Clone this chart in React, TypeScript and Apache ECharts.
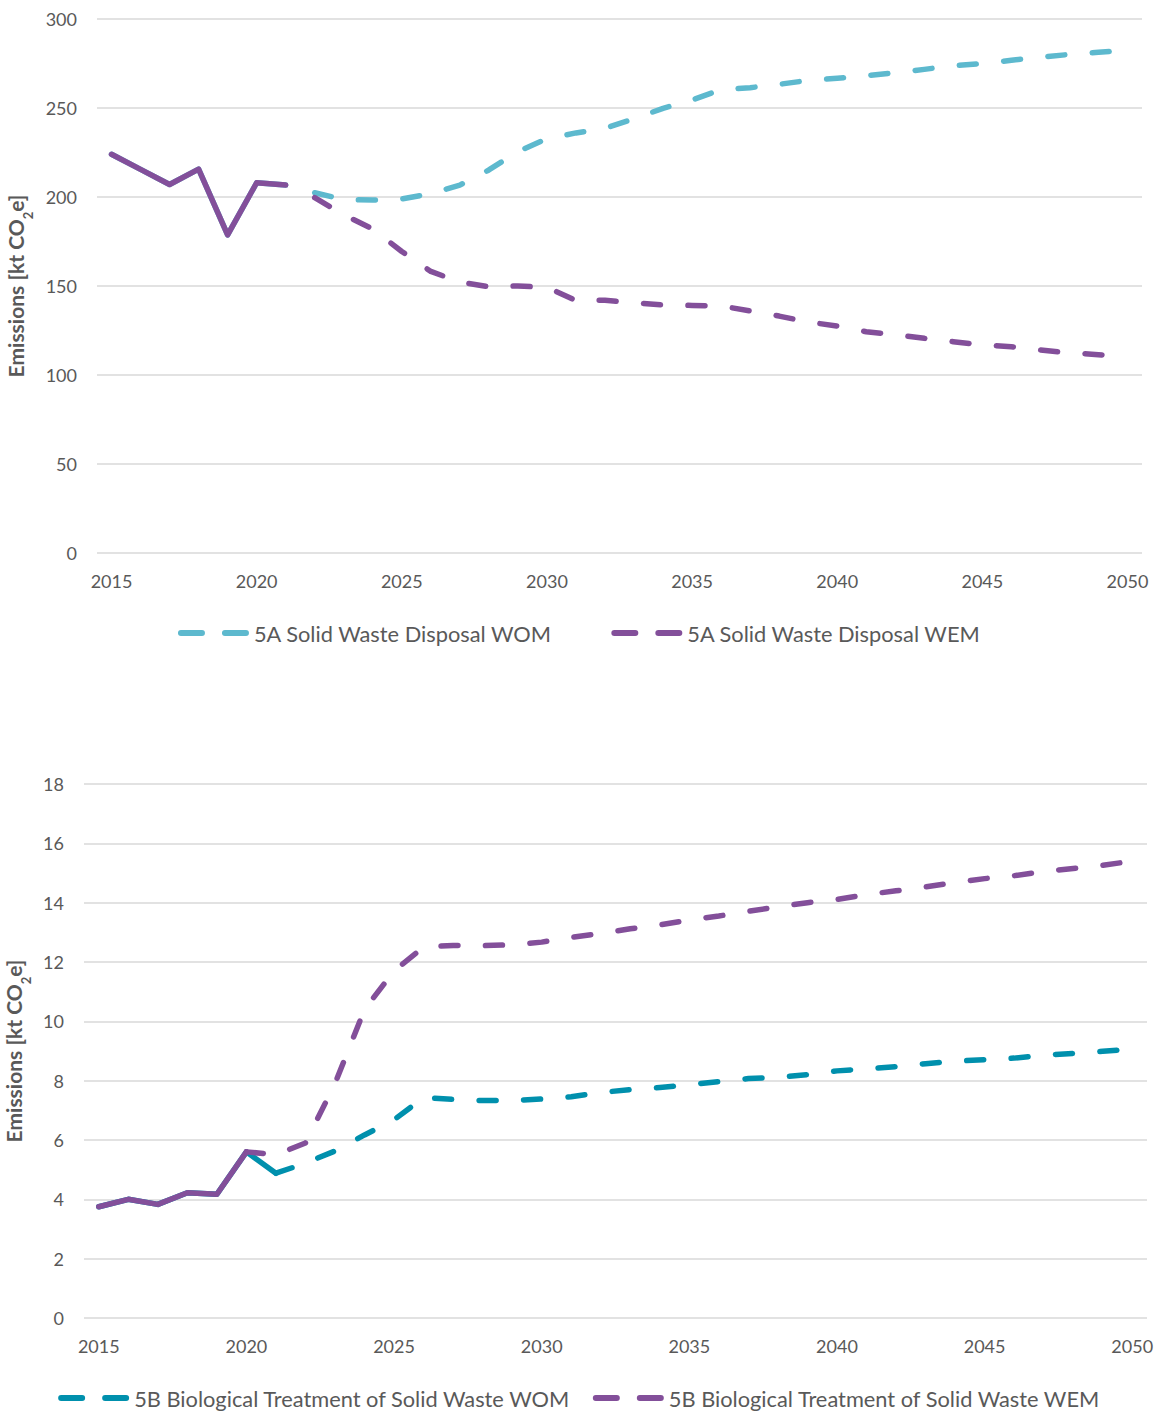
import React, { useEffect, useRef } from "react";
import * as echarts from "echarts";

// ---------- categories ----------
const years = [
  "2015", "2016", "2017", "2018", "2019", "2020", "2021", "2022", "2023", "2024",
  "2025", "2026", "2027", "2028", "2029", "2030", "2031", "2032", "2033", "2034",
  "2035", "2036", "2037", "2038", "2039", "2040", "2041", "2042", "2043", "2044",
  "2045", "2046", "2047", "2048", "2049", "2050",
];

// ---------- 5A Solid Waste Disposal ----------
// historic (shared by both scenarios), 2015-2021
const hist5A = [224, 215.5, 207, 215.7, 178.7, 208, 206.7];
// projections 2022-2050
const wom5A = [
  202.4, 198.5, 198.3, 198.9, 201.9, 206.7, 215.2, 225.5, 232.8, 236,
  238.6, 244, 249.8, 254.5, 260.3, 261.4, 263.3, 265.5, 266.7, 268.2,
  269.8, 271.7, 273.8, 274.9, 276.8, 278.5, 280.1, 281.3, 282.4,
];
const wem5A = [
  199.6, 190, 182, 169.4, 158.2, 152.2, 149.6, 150, 149.3, 141.8,
  142, 140.6, 139.3, 139.1, 138.8, 136, 133.1, 129.8, 127.5, 124.3,
  122.6, 120.6, 118.7, 116.9, 115.9, 114, 112.5, 111.4, 109.7,
];

// ---------- 5B Biological Treatment of Solid Waste ----------
// historic WOM 2015-2021, historic WEM 2015-2020
const hist5B_WOM = [3.75, 4.0, 3.83, 4.22, 4.17, 5.6, 4.88];
const hist5B_WEM = [3.75, 4.0, 3.83, 4.22, 4.17, 5.6];
// projection WOM 2021-2050
const wom5B = [
  4.88, 5.22, 5.63, 6.17, 6.68, 7.43, 7.37, 7.33, 7.33, 7.38,
  7.46, 7.6, 7.7, 7.77, 7.86, 7.97, 8.07, 8.12, 8.2, 8.33,
  8.4, 8.47, 8.57, 8.66, 8.71, 8.76, 8.86, 8.92, 8.99, 9.06,
];
// projection WEM 2020-2050
const wem5B = [
  5.6, 5.5, 5.9, 7.9, 10.4, 11.7, 12.5, 12.56, 12.55, 12.58,
  12.67, 12.83, 12.96, 13.12, 13.25, 13.42, 13.55, 13.71, 13.86, 14.0,
  14.11, 14.27, 14.4, 14.53, 14.68, 14.81, 14.91, 15.05, 15.15, 15.26,
  15.4,
];

const LEG_5A_WOM = "5A Solid Waste Disposal WOM";
const LEG_5A_WEM = "5A Solid Waste Disposal WEM";
const LEG_5B_WOM = "5B Biological Treatment of Solid Waste WOM";
const LEG_5B_WEM = "5B Biological Treatment of Solid Waste WEM";

const CYAN_A = "#5DB9CE";
const CYAN_B = "#0090AD";
const PURPLE = "#834F9A";
const GREY = "#595959";
const FONT = "Lato";
const DASH = [17, 27.5];

// legend icon: two rounded dashes (71 x 6)
const DASH_ICON =
  "path://M3,0H24A3,3 0 0 1 24,6H3A3,3 0 0 1 3,0Z M47,0H68A3,3 0 0 1 68,6H47A3,3 0 0 1 47,0Z";

function place(startYear: string, values: number[]) {
  const start = years.indexOf(startYear);
  return years.map((_, i) =>
    i >= start && i - start < values.length ? values[i - start] : null
  );
}

function lineSeries(
  name: string,
  idx: number,
  data: (number | null)[],
  color: string,
  dashed: boolean,
  z: number
) {
  return {
    name,
    type: "line",
    xAxisIndex: idx,
    yAxisIndex: idx,
    data,
    symbol: "none",
    showSymbol: false,
    connectNulls: false,
    z,
    silent: true,
    lineStyle: {
      color,
      width: 5.5,
      type: dashed ? DASH : "solid",
      cap: "round",
      join: "round",
    },
    itemStyle: { color },
    emphasis: { disabled: true },
  };
}

const yName = "{a|Emissions [kt CO}{s|2}{a|e]}";
const yNameRich = {
  a: { fontFamily: FONT, fontSize: 21, fontWeight: "bold", color: GREY, lineHeight: 26 },
  s: {
    fontFamily: FONT,
    fontSize: 13,
    fontWeight: "bold",
    color: GREY,
    verticalAlign: "bottom",
    lineHeight: 13,
    padding: [0, 0, -6, 0],
  },
};

export default function App() {
  const ref = useRef<HTMLDivElement>(null);

  useEffect(() => {
    if (!ref.current) return;
    const chart = echarts.init(ref.current, undefined, { renderer: "svg" });

    const xAxisBase = (i: number) => ({
      type: "category",
      gridIndex: i,
      data: years,
      boundaryGap: true,
      axisLine: { show: false },
      axisTick: { show: false },
      splitLine: { show: false },
      axisLabel: {
        interval: 4,
        color: GREY,
        fontSize: 18,
        fontFamily: FONT,
        margin: 19,
      },
    });

    const yAxisBase = (i: number, max: number, interval: number, gap: number) => ({
      type: "value",
      gridIndex: i,
      min: 0,
      max,
      interval,
      axisLine: { show: false },
      axisTick: { show: false },
      axisLabel: { color: GREY, fontSize: 18, fontFamily: FONT, margin: 20 },
      splitLine: { show: true, lineStyle: { color: "#D9D9D9", width: 1.5 } },
      name: yName,
      nameLocation: "middle",
      nameGap: gap,
      nameRotate: 90,
      nameTextStyle: { rich: yNameRich },
    });

    const legendBase = {
      left: "center",
      orient: "horizontal",
      itemWidth: 71,
      itemHeight: 6,
      icon: DASH_ICON,
      selectedMode: false,
      textStyle: { color: GREY, fontSize: 21.8, fontFamily: FONT },
    };

    chart.setOption({
      animation: false,
      backgroundColor: "#ffffff",
      textStyle: { fontFamily: FONT },
      grid: [
        { left: 97, top: 19, width: 1045, height: 534, outerBoundsMode: "none", containLabel: false },
        { left: 84, top: 784, width: 1063, height: 534, outerBoundsMode: "none", containLabel: false },
      ],
      xAxis: [xAxisBase(0), xAxisBase(1)],
      yAxis: [yAxisBase(0, 300, 50, 58), yAxisBase(1, 18, 2, 47)],
      legend: [
        { ...legendBase, top: 617, itemGap: 59, data: [LEG_5A_WOM, LEG_5A_WEM] },
        { ...legendBase, top: 1382, itemGap: 22, data: [LEG_5B_WOM, LEG_5B_WEM] },
      ],
      series: [
        // 5A
        lineSeries("5A WOM historic", 0, place("2015", hist5A), CYAN_A, false, 2),
        lineSeries("5A WEM historic", 0, place("2015", hist5A), PURPLE, false, 3),
        lineSeries(LEG_5A_WOM, 0, place("2022", wom5A), CYAN_A, true, 2),
        lineSeries(LEG_5A_WEM, 0, place("2022", wem5A), PURPLE, true, 3),
        // 5B
        lineSeries("5B WOM historic", 1, place("2015", hist5B_WOM), CYAN_B, false, 2),
        lineSeries("5B WEM historic", 1, place("2015", hist5B_WEM), PURPLE, false, 3),
        lineSeries(LEG_5B_WOM, 1, place("2021", wom5B), CYAN_B, true, 2),
        lineSeries(LEG_5B_WEM, 1, place("2020", wem5B), PURPLE, true, 3),
      ],
    });

    return () => chart.dispose();
  }, []);

  return (
    <div
      ref={ref}
      style={{ position: "absolute", left: 0, top: 0, width: 1159, height: 1411, background: "#fff" }}
    />
  );
}
